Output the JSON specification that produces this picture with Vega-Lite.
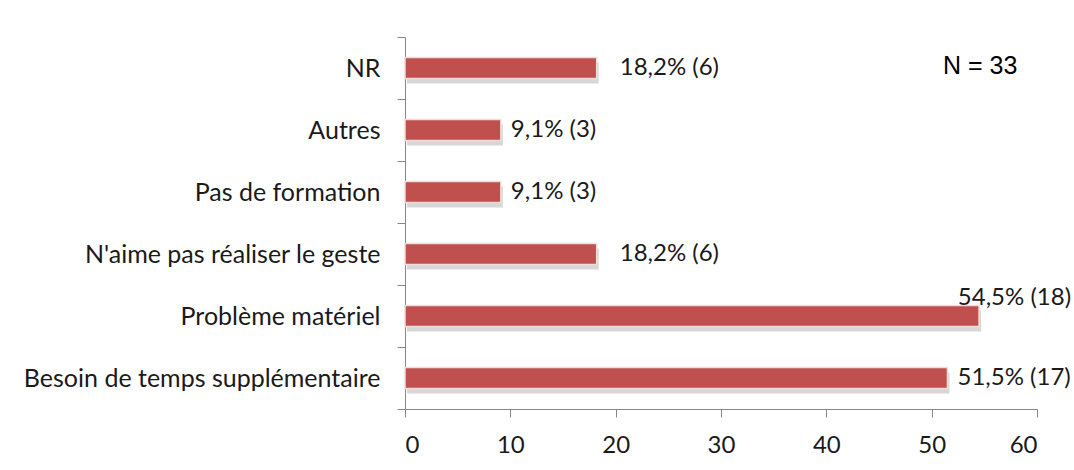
{
  "$schema": "https://vega.github.io/schema/vega-lite/v6.json",
  "width": 632,
  "height": 372,
  "autosize": {"type": "none"},
  "padding": {"left": 405, "top": 37, "right": 37, "bottom": 61},
  "background": "white",
  "config": {"view": {"stroke": null}},
  "data": {"values": [
    {"cat": "NR", "value": 18.2, "label": "18,2% (6)"},
    {"cat": "Autres", "value": 9.1, "label": "9,1% (3)"},
    {"cat": "Pas de formation", "value": 9.1, "label": "9,1% (3)"},
    {"cat": "N'aime pas réaliser le geste", "value": 18.2, "label": "18,2% (6)"},
    {"cat": "Problème matériel", "value": 54.5, "label": "54,5% (18)"},
    {"cat": "Besoin de temps supplémentaire", "value": 51.5, "label": "51,5% (17)"}
  ]},
  "encoding": {
    "y": {
      "field": "cat", "type": "nominal", "sort": null, "title": null,
      "scale": {"paddingInner": 0, "paddingOuter": 0},
      "axis": {"tickBand": "extent", "domainColor": "#868686", "tickColor": "#868686", "tickSize": 8, "labelPadding": 17, "labelFont": "Lato", "labelFontSize": 25, "labelColor": "#1a1a1a", "labelLimit": 500}
    },
    "x": {
      "field": "value", "type": "quantitative", "title": null,
      "scale": {"domain": [0, 60], "nice": false},
      "axis": {"values": [0, 10, 20, 30, 40, 50, 60], "grid": false, "domainColor": "#868686", "tickColor": "#868686", "tickSize": 8, "labelPadding": 16, "labelFont": "Lato", "labelFontSize": 24, "labelColor": "#1a1a1a"}
    }
  },
  "layer": [
    {"mark": {"type": "bar", "color": "#8c8c8c", "opacity": 0.35, "height": {"band": 0.34}}, "encoding": {"yOffset": {"value": 5}, "xOffset": {"value": 2}}},
    {"mark": {"type": "bar", "color": "#C0504D", "stroke": "#f2dcdb", "strokeWidth": 1.5, "height": {"band": 0.34}}},
    {
      "transform": [{"filter": "datum.value < 50 && datum.value > 10"}],
      "mark": {"type": "text", "align": "left", "dx": 23, "font": "Lato", "fontSize": 24, "color": "#1a1a1a"},
      "encoding": {"text": {"field": "label"}}
    },
    {
      "transform": [{"filter": "datum.value < 10 || (datum.value > 50 && datum.value < 54)"}],
      "mark": {"type": "text", "align": "left", "dx": 10, "font": "Lato", "fontSize": 24, "color": "#1a1a1a"},
      "encoding": {"text": {"field": "label"}}
    },
    {
      "transform": [{"filter": "datum.value > 54"}],
      "mark": {"type": "text", "align": "right", "dx": 92, "dy": -18, "font": "Lato", "fontSize": 24, "color": "#1a1a1a"},
      "encoding": {"text": {"field": "label"}}
    },
    {
      "transform": [{"filter": "datum.cat == 'NR'"}],
      "mark": {"type": "text", "font": "Liberation Sans", "fontSize": 25, "color": "black", "dy": -2},
      "encoding": {"x": {"datum": 54.6, "type": "quantitative"}, "text": {"value": "N = 33"}}
    }
  ]
}
